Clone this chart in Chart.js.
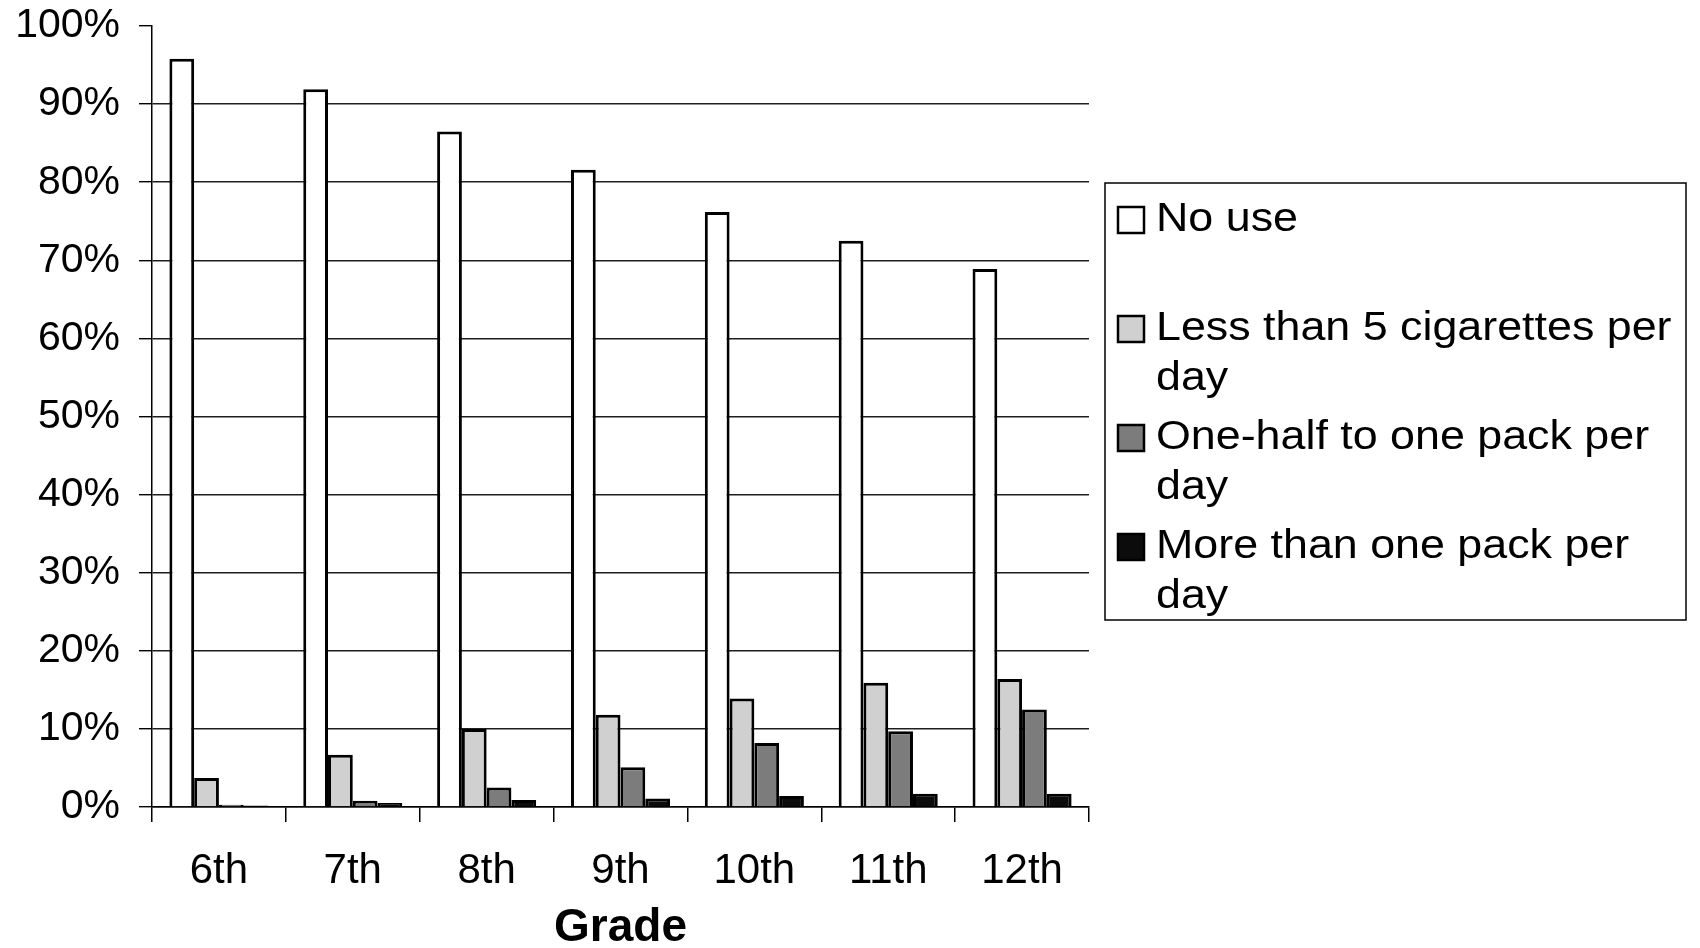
<!DOCTYPE html>
<html>
<head>
<meta charset="utf-8">
<script src="https://cdn.jsdelivr.net/npm/chart.js@4.4.1/dist/chart.umd.min.js"></script>
<style>
  html, body { margin: 0; padding: 0; background: #ffffff; }
  #wrap { position: relative; width: 1700px; height: 948px; }
  canvas { display: block; }
</style>
</head>
<body>
<div id="wrap"><canvas id="chart" width="1700" height="948"></canvas></div>
<script>
// Grades surveyed
const grades = ['6th', '7th', '8th', '9th', '10th', '11th', '12th'];

// Share of students (%) in each smoking category, by grade
const noUse        = [95.8, 91.9, 86.5, 81.6, 76.2, 72.5, 68.9];
const lessThanFive = [3.7, 6.7, 10.0, 11.8, 13.9, 15.9, 16.4];
const halfToOne    = [0.3, 0.8, 2.5, 5.1, 8.2, 9.7, 12.5];
const moreThanOne  = [0.2, 0.5, 0.9, 1.1, 1.4, 1.7, 1.7];

const seriesNames = [
  'No use',
  'Less than 5 cigarettes per day',
  'One-half to one pack per day',
  'More than one pack per day'
];
const seriesColors = ['#ffffff', '#d0d0d0', '#7c7c7c', '#0c0c0c'];

// Y axis tick values
const yTicks = [0, 10, 20, 30, 40, 50, 60, 70, 80, 90, 100];

const FONT = '"Liberation Sans", Arial, Helvetica, sans-serif';

// Boxed legend on the right, with wrapped two-line entries
const boxLegend = {
  id: 'boxLegend',
  afterDraw(chart) {
    const ctx = chart.ctx;
    const left = 1105, top = 183, right = 1686, bottom = 620;
    const stretch = 1.12;           // slightly wide lettering
    ctx.save();
    ctx.strokeStyle = '#000';
    ctx.lineWidth = 1.5;
    ctx.strokeRect(left, top, right - left, bottom - top);

    ctx.font = '40px ' + FONT;
    ctx.textAlign = 'left';
    ctx.textBaseline = 'middle';
    const textX = 1156, maxW = 525, lineH = 50, entryH = 109;
    chart.data.datasets.forEach((ds, i) => {
      const y0 = 220 + i * entryH;
      // marker
      ctx.fillStyle = ds.backgroundColor;
      ctx.fillRect(1118, y0 - 13, 26, 26);
      ctx.strokeStyle = '#000';
      ctx.lineWidth = 2.5;
      ctx.strokeRect(1118, y0 - 13, 26, 26);
      // wrapped label
      const words = ds.label.split(' ');
      const lines = [];
      let cur = '';
      words.forEach(w => {
        const test = cur ? cur + ' ' + w : w;
        if (ctx.measureText(test).width * stretch > maxW && cur) {
          lines.push(cur);
          cur = w;
        } else {
          cur = test;
        }
      });
      if (cur) lines.push(cur);
      ctx.fillStyle = '#000';
      lines.forEach((ln, k) => {
        ctx.save();
        ctx.translate(textX, y0 + k * lineH);
        ctx.scale(stretch, 1);
        ctx.fillText(ln, 0, 0);
        ctx.restore();
      });
    });
    ctx.restore();
  }
};

const values = [noUse, lessThanFive, halfToOne, moreThanOne];

new Chart(document.getElementById('chart'), {
  type: 'bar',
  data: {
    labels: grades,
    datasets: values.map((v, i) => ({
      label: seriesNames[i],
      data: v,
      backgroundColor: seriesColors[i],
      borderColor: '#000',
      borderWidth: 3,
      categoryPercentage: 0.74,
      barPercentage: 1.0
    }))
  },
  options: {
    responsive: false,
    animation: false,
    layout: { padding: { top: 26, right: 611, left: 0, bottom: 0 } },
    plugins: {
      legend: { display: false },
      tooltip: { enabled: false }
    },
    scales: {
      x: {
        offset: true,
        grid: {
          offset: true,
          drawOnChartArea: false,
          drawTicks: true,
          tickLength: 15,
          color: '#000',
          lineWidth: 1.5
        },
        border: { color: '#000', width: 1.5 },
        ticks: {
          color: '#000',
          padding: 24,
          font: { family: FONT, size: 42 }
        },
        title: {
          display: true,
          text: 'Grade',
          color: '#000',
          padding: 0,
          font: { family: FONT, size: 46, weight: 'bold', lineHeight: 0.85 }
        },
        afterFit(scale) {
          scale.height = 141;
          scale.paddingLeft = 0;
          scale.paddingRight = 0;
        }
      },
      y: {
        min: 0,
        max: 100,
        afterBuildTicks(scale) { scale.ticks = yTicks.map(v => ({ value: v })); },
        grid: {
          color: c => (c.tick && c.tick.value === 100) ? 'rgba(0,0,0,0)' : '#1e1e1e',
          tickColor: '#000',
          tickLength: 13,
          lineWidth: 1.4
        },
        border: { color: '#000', width: 1.5 },
        ticks: {
          color: '#000',
          padding: 19,
          font: { family: FONT, size: 41 },
          callback: v => v + '%'
        },
        afterFit(scale) {
          scale.width = 152;
          scale.paddingTop = 0;
          scale.paddingBottom = 0;
        }
      }
    }
  },
  plugins: [boxLegend]
});
</script>
</body>
</html>
